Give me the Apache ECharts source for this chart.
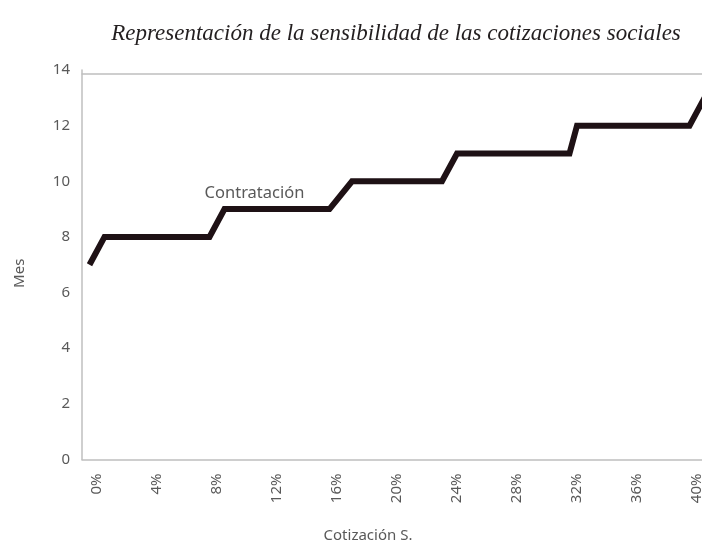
<!DOCTYPE html>
<html>
<head>
<meta charset="utf-8">
<script src="https://cdn.jsdelivr.net/npm/echarts@6/dist/echarts.min.js"></script>
<style>
  html, body { margin: 0; padding: 0; background: #fff; }
  #chart { width: 702px; height: 546px; }
</style>
</head>
<body>
<div id="chart"></div>
<script>
// Cotización S. (%) donde cambia la pendiente, y meses correspondientes
const cotizacion = [0, 1, 8, 9, 16, 17.5, 23.5, 24.5, 32, 32.5, 40, 41];
const meses = [7, 8, 8, 9, 9, 10, 10, 11, 11, 12, 12, 13];
const xTicks = [0, 4, 8, 12, 16, 20, 24, 28, 32, 36, 40];
const yTicks = [0, 2, 4, 6, 8, 10, 12, 14];
const serieNombre = "Contratación";
const labelIndex = 3;

(function () {
  const chart = echarts.init(document.getElementById("chart"));
  const gris = "#595959";
  const lineaEje = "#bfbfbf";
  const fuente = "'Noto Sans', 'Open Sans', sans-serif";

  const data = cotizacion.map(function (x, i) {
    const item = { value: [x, meses[i]] };
    if (i === labelIndex) {
      item.label = {
        show: true,
        formatter: "{a}",
        position: "top",
        distance: 7,
        offset: [30, 0],
        color: gris,
        fontSize: 16.5,
        fontFamily: fuente,
      };
    }
    return item;
  });

  const option = {
    animation: false,
    title: {
      text: "Representación de la sensibilidad de las cotizaciones sociales",
      left: 391,
      top: 17,
      textAlign: "center",
      textStyle: {
        fontFamily: "'Liberation Serif', 'DejaVu Serif', serif",
        fontStyle: "italic",
        fontWeight: "normal",
        fontSize: 23,
        color: "#231f20",
      },
    },
    grid: {
      left: 82,
      right: -10,
      top: 70,
      bottom: 86.5,
      outerBoundsMode: "none",
    },
    xAxis: [
      {
        type: "value",
        min: -0.5,
        max: 41.5,
        name: "Cotización S.",
        nameLocation: "middle",
        nameGap: 69,
        nameTextStyle: {
          color: gris,
          fontSize: 15,
          fontFamily: fuente,
          padding: [0, 58, 0, 0],
        },
        axisLine: { lineStyle: { color: lineaEje, width: 1.5 } },
        axisTick: { show: false },
        splitLine: { show: false },
        axisLabel: {
          customValues: xTicks,
          formatter: function (v) {
            return v + "%";
          },
          rotate: 90,
          verticalAlign: "top",
          lineHeight: 15,
          margin: 14,
          color: gris,
          fontSize: 15,
          fontFamily: fuente,
        },
      },
      {
        type: "value",
        position: "top",
        min: -0.5,
        max: 41.5,
        offset: -4,
        axisLine: { show: true, lineStyle: { color: lineaEje, width: 1.5 } },
        axisTick: { show: false },
        axisLabel: { show: false },
        splitLine: { show: false },
      },
    ],
    yAxis: {
      type: "value",
      min: yTicks[0],
      max: yTicks[yTicks.length - 1],
      interval: 2,
      name: "Mes",
      nameLocation: "middle",
      nameGap: 55,
      nameTextStyle: {
        color: gris,
        fontSize: 15,
        fontFamily: fuente,
        padding: [0, 17, 0, 0],
      },
      axisLine: {
        show: true,
        onZero: false,
        lineStyle: { color: lineaEje, width: 1.5 },
      },
      axisTick: { show: false },
      splitLine: { show: false },
      axisLabel: {
        margin: 12,
        color: gris,
        fontSize: 15,
        fontFamily: fuente,
      },
    },
    series: [
      {
        name: serieNombre,
        type: "line",
        data: data,
        symbol: "circle",
        symbolSize: 0.1,
        showSymbol: true,
        showAllSymbol: true,
        itemStyle: { color: "#1e1115" },
        clip: false,
        lineStyle: {
          color: "#1e1115",
          width: 6,
          join: "miter",
          cap: "butt",
        },
      },
    ],
  };
  chart.setOption(option);

  window.addEventListener("resize", function () {
    chart.resize();
  });
})();
</script>
</body>
</html>
